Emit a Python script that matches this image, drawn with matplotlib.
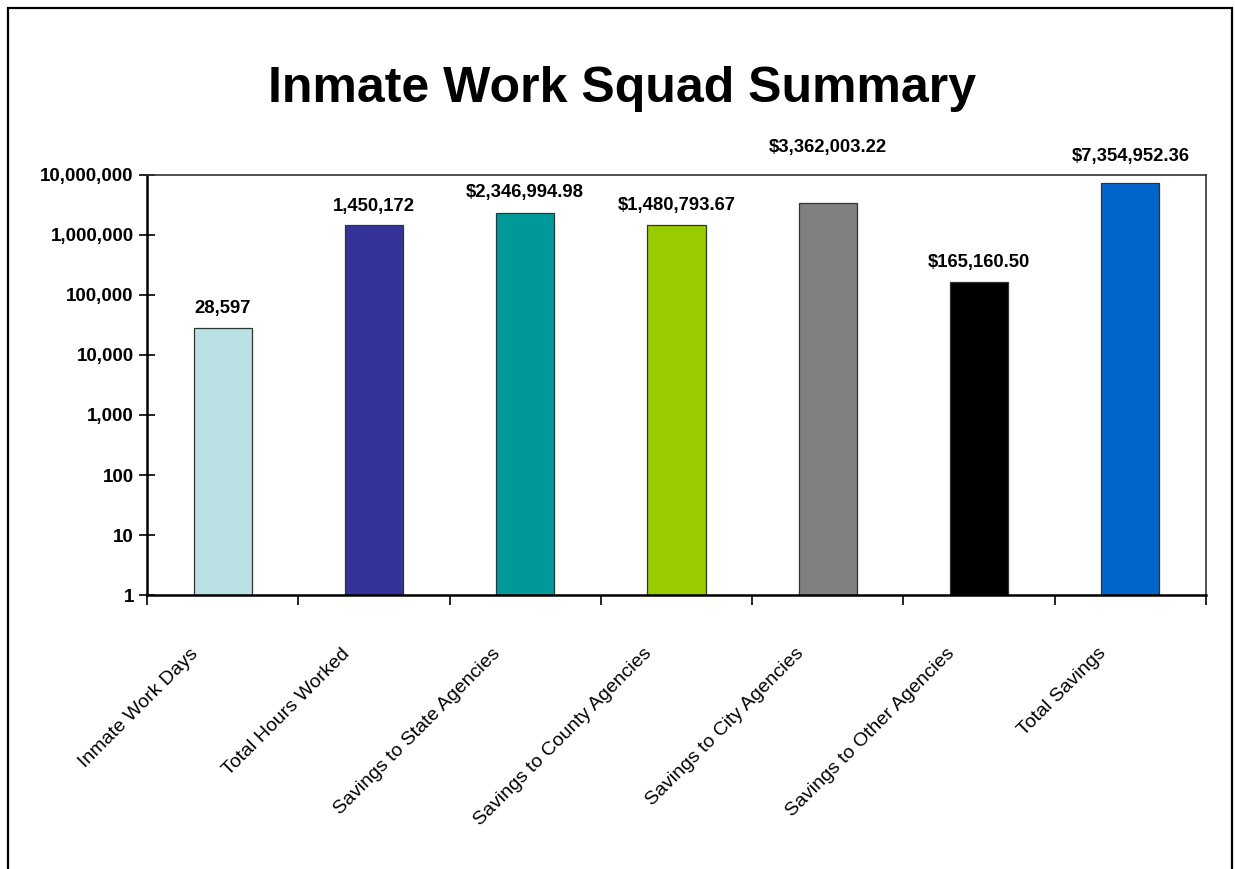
import matplotlib
matplotlib.use("Agg")
import matplotlib.pyplot as plt
from matplotlib.patches import Rectangle
from matplotlib.ticker import FixedLocator, FuncFormatter, NullLocator

plt.rcParams["font.family"] = ["Liberation Sans", "DejaVu Sans"]

# Data
categories = [
    "Inmate Work Days",
    "Total Hours Worked",
    "Savings to State Agencies",
    "Savings to County Agencies",
    "Savings to City Agencies",
    "Savings to Other Agencies",
    "Total Savings",
]
values = [28597, 1450172, 2346994.98, 1480793.67, 3362003.22, 165160.50, 7354952.36]
value_labels = [
    "28,597",
    "1,450,172",
    "$2,346,994.98",
    "$1,480,793.67",
    "$3,362,003.22",
    "$165,160.50",
    "$7,354,952.36",
]
bar_colors = ["#B9E0E3", "#333399", "#009999", "#99CC00", "#808080", "#000000", "#0066CC"]
y_ticks = [1, 10, 100, 1000, 10000, 100000, 1000000, 10000000]

# Vertical lift of each value label above its bar, in pixels
label_lift = [19, 19, 20, 19, 56, 19, 27]

W, H, DPI = 1235, 869, 100
fig = plt.figure(figsize=(W / DPI, H / DPI), dpi=DPI)
fig.patch.set_facecolor("white")

# Outer chart border
fig.add_artist(Rectangle((8 / W, -0.01), (1232 - 8) / W, (H - 8) / H + 0.01,
                         transform=fig.transFigure, fill=False,
                         edgecolor="black", linewidth=1.6))

fig.text(622 / W, 1 - 89 / H, "Inmate Work Squad Summary", ha="center", va="center",
         fontsize=36, fontweight="bold", color="black")

left, right, top, bottom = 147, 1206, 175, 595
ax = fig.add_axes([left / W, 1 - bottom / H, (right - left) / W, (bottom - top) / H])

x = list(range(len(categories)))
bars = ax.bar(x, values, width=0.385, color=bar_colors, edgecolor="#333333",
              linewidth=0.9, zorder=2)

ax.set_yscale("log")
ax.set_ylim(1, 1e7)
ax.set_xlim(-0.5, len(categories) - 0.5)

ax.yaxis.set_major_locator(FixedLocator(y_ticks))
ax.yaxis.set_minor_locator(NullLocator())
ax.yaxis.set_major_formatter(FuncFormatter(lambda v, p: f"{int(round(v)):,}"))
ax.tick_params(axis="y", which="major", direction="inout", length=11, width=1.2,
               pad=4, labelsize=13.5, colors="black")
for t in ax.get_yticklabels():
    t.set_fontweight("bold")

ax.set_xticks([i - 0.5 for i in range(len(categories) + 1)])
ax.set_xticklabels([])
ax.tick_params(axis="x", direction="out", length=7, width=1.2, colors="black")

for side in ("left", "bottom"):
    ax.spines[side].set_linewidth(1.8)
    ax.spines[side].set_color("black")
for side in ("top", "right"):
    ax.spines[side].set_linewidth(1.2)
    ax.spines[side].set_color("#333333")

# Value labels above the bars
for xi, v, lab, lift in zip(x, values, value_labels, label_lift):
    ax.annotate(lab, xy=(xi, v), xytext=(0, lift), textcoords="offset pixels",
                ha="center", va="center", fontsize=13.3, fontweight="bold",
                color="black", annotation_clip=False)

# Rotated category labels
for xi, cat in zip(x, categories):
    ax.annotate(cat, xy=(xi, 0), xycoords=("data", "axes fraction"),
                xytext=(-27, -56), textcoords="offset pixels",
                rotation=45, rotation_mode="anchor", ha="right", va="center",
                fontsize=14, color="black", annotation_clip=False)

fig.savefig("out.png", dpi=DPI, facecolor="white")
